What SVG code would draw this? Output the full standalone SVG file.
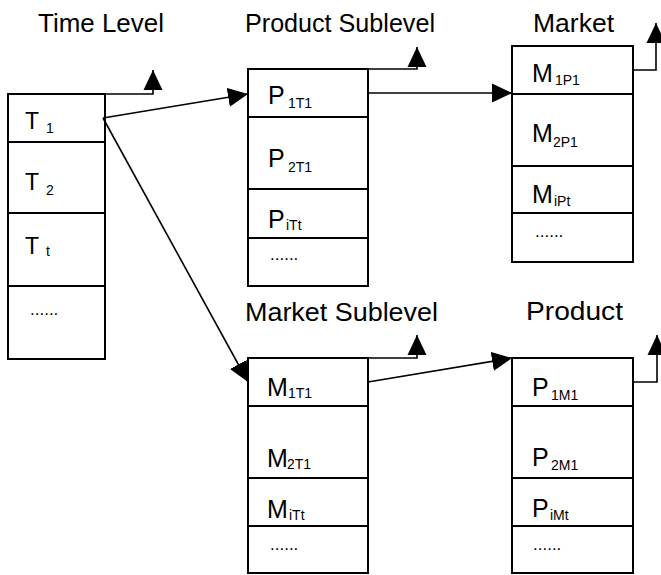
<svg xmlns="http://www.w3.org/2000/svg" width="661" height="575" viewBox="0 0 661 575">
  <style>
    .box { fill: #fff; stroke: #000; stroke-width: 2; }
    .div { stroke: #000; stroke-width: 2; }
    .con { fill: none; stroke: #000; stroke-width: 1.6; }
    text { font-family: "Liberation Sans", Arial, sans-serif; fill: #000; }
    .title { font-size: 25px; }
    .main { font-size: 25px; }
    .tmain { font-size: 23px; }
    .sub { font-size: 14px; }
    .dots { font-size: 17px; }
  </style>
  <defs>
    <marker id="arrow" markerUnits="userSpaceOnUse" markerWidth="20" markerHeight="20" refX="20" refY="10" orient="auto">
      <path d="M0,0.5 L20,10 L0,19.5 z" fill="#000"/>
    </marker>
  </defs>

  <rect width="661" height="575" fill="#fff"/>

  <!-- column titles -->
  <text class="title" x="38" y="32" textLength="126" lengthAdjust="spacingAndGlyphs">Time Level</text>
  <text class="title" x="245" y="32" textLength="190" lengthAdjust="spacingAndGlyphs">Product Sublevel</text>
  <text class="title" x="533" y="32" textLength="81" lengthAdjust="spacingAndGlyphs">Market</text>
  <text class="title" x="245" y="321" textLength="193" lengthAdjust="spacingAndGlyphs">Market Sublevel</text>
  <text class="title" x="526" y="320" textLength="97" lengthAdjust="spacingAndGlyphs">Product</text>

  <!-- time level -->
  <g id="time-level">
    <rect class="box" x="8" y="94" width="97" height="265"/>
    <line class="div" x1="8" y1="142" x2="105" y2="142"/>
    <line class="div" x1="8" y1="213" x2="105" y2="213"/>
    <line class="div" x1="8" y1="286" x2="105" y2="286"/>
    <text class="tmain" x="25" y="129">T</text><text class="sub" x="46" y="133">1</text>
    <text class="tmain" x="25" y="190">T</text><text class="sub" x="46" y="195">2</text>
    <text class="tmain" x="25" y="254">T</text><text class="sub" x="46" y="256">t</text>
    <text class="dots" x="30" y="315">......</text>
  </g>

  <!-- product sublevel -->
  <g id="product-sublevel">
    <rect class="box" x="248" y="69" width="120" height="217"/>
    <line class="div" x1="248" y1="117" x2="368" y2="117"/>
    <line class="div" x1="248" y1="189" x2="368" y2="189"/>
    <line class="div" x1="248" y1="238" x2="368" y2="238"/>
    <text class="main" x="268" y="104">P</text><text class="sub" x="288" y="108">1T1</text>
    <text class="main" x="268" y="167">P</text><text class="sub" x="288" y="172">2T1</text>
    <text class="main" x="268" y="228">P</text><text class="sub" x="286" y="230">iTt</text>
    <text class="dots" x="270" y="260">......</text>
  </g>

  <!-- market -->
  <g id="market">
    <rect class="box" x="512" y="46" width="121" height="216"/>
    <line class="div" x1="512" y1="94" x2="633" y2="94"/>
    <line class="div" x1="512" y1="166" x2="633" y2="166"/>
    <line class="div" x1="512" y1="213" x2="633" y2="213"/>
    <text class="main" x="532" y="82">M</text><text class="sub" x="555" y="85">1P1</text>
    <text class="main" x="532" y="142">M</text><text class="sub" x="553" y="147">2P1</text>
    <text class="main" x="532" y="203">M</text><text class="sub" x="554" y="206">iPt</text>
    <text class="dots" x="535" y="237">......</text>
  </g>

  <!-- market sublevel -->
  <g id="market-sublevel">
    <rect class="box" x="248" y="358" width="120" height="215"/>
    <line class="div" x1="248" y1="406" x2="368" y2="406"/>
    <line class="div" x1="248" y1="478" x2="368" y2="478"/>
    <line class="div" x1="248" y1="526" x2="368" y2="526"/>
    <text class="main" x="267" y="396">M</text><text class="sub" x="288" y="398">1T1</text>
    <text class="main" x="267" y="467">M</text><text class="sub" x="287" y="469">2T1</text>
    <text class="main" x="267" y="518">M</text><text class="sub" x="289" y="520">iTt</text>
    <text class="dots" x="270" y="550">......</text>
  </g>

  <!-- product -->
  <g id="product">
    <rect class="box" x="512" y="358" width="121" height="215"/>
    <line class="div" x1="512" y1="406" x2="633" y2="406"/>
    <line class="div" x1="512" y1="478" x2="633" y2="478"/>
    <line class="div" x1="512" y1="526" x2="633" y2="526"/>
    <text class="main" x="532" y="396">P</text><text class="sub" x="551" y="400">1M1</text>
    <text class="main" x="532" y="466">P</text><text class="sub" x="551" y="470">2M1</text>
    <text class="main" x="532" y="517">P</text><text class="sub" x="550" y="520">iMt</text>
    <text class="dots" x="533" y="550">......</text>
  </g>

  <!-- connectors -->
  <g id="connectors">
    <path class="con" d="M103,118 L248,94" marker-end="url(#arrow)"/>
    <path class="con" d="M103,118 L248,382" marker-end="url(#arrow)"/>
    <path class="con" d="M368,93 H512" marker-end="url(#arrow)"/>
    <path class="con" d="M368,382 L512,358" marker-end="url(#arrow)"/>
    <path class="con" d="M105,94 H153 V70" marker-end="url(#arrow)"/>
    <path class="con" d="M368,69 H417 V47" marker-end="url(#arrow)"/>
    <path class="con" d="M633,70 H656 V23" marker-end="url(#arrow)"/>
    <path class="con" d="M368,358 H417 V335" marker-end="url(#arrow)"/>
    <path class="con" d="M633,382 H657 V335" marker-end="url(#arrow)"/>
  </g>
</svg>
